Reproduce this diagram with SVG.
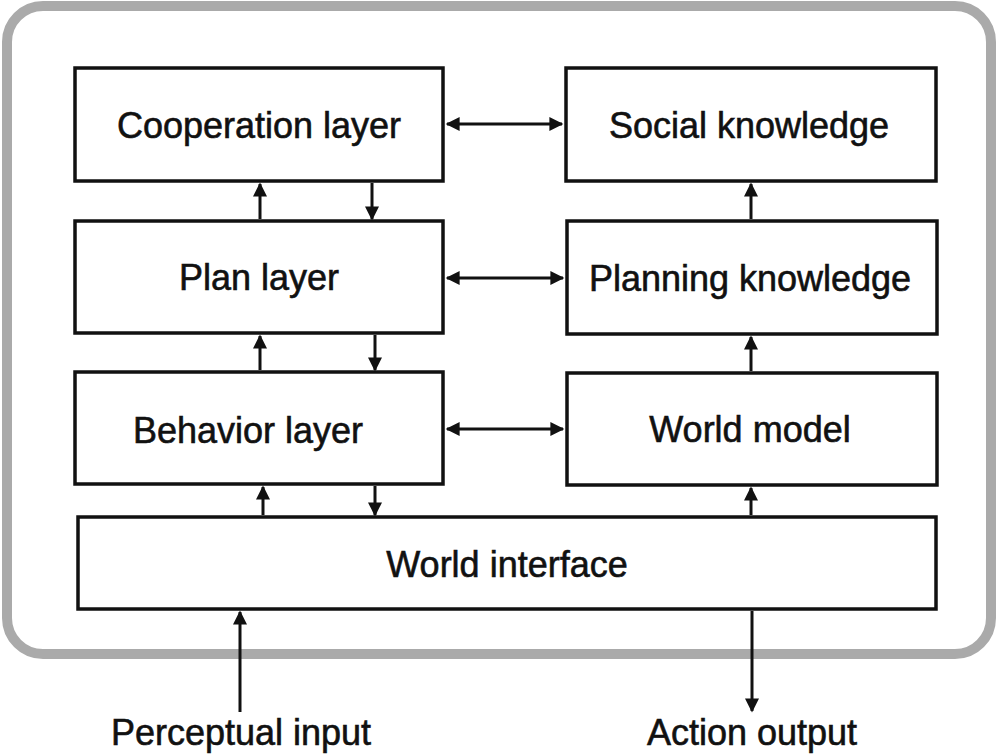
<svg xmlns="http://www.w3.org/2000/svg" width="1000" height="756" viewBox="0 0 1000 756">
<style>
.box{fill:#fff;stroke:#111;stroke-width:3.5}
.t{font-family:"Liberation Sans",Arial,sans-serif;font-size:36px;fill:#111;stroke:#111;stroke-width:0.6;text-anchor:middle}
.c{stroke:#111;stroke-width:3;fill:none}
</style>
<defs>
<marker id="ah" viewBox="0 0 10 10" refX="9" refY="5" markerWidth="15" markerHeight="14" markerUnits="userSpaceOnUse" orient="auto-start-reverse">
<path d="M0,0 L10,5 L0,10 z" fill="#111"/>
</marker>
</defs>
<rect x="7" y="6" width="984" height="648" rx="36" fill="#fff" stroke="#aaaaaa" stroke-width="10"/>
<g id="cooperation"><rect class="box" x="75" y="68" width="368" height="113"/><text class="t" x="259" y="138">Cooperation layer</text></g>
<g id="plan"><rect class="box" x="75" y="221" width="368" height="112"/><text class="t" x="259" y="290">Plan layer</text></g>
<g id="behavior"><rect class="box" x="75" y="372" width="368" height="112"/><text class="t" x="248" y="443">Behavior layer</text></g>
<g id="social"><rect class="box" x="566" y="68" width="370" height="113"/><text class="t" x="749" y="138">Social knowledge</text></g>
<g id="planning"><rect class="box" x="567" y="221" width="370" height="113"/><text class="t" x="750" y="291">Planning knowledge</text></g>
<g id="worldmodel"><rect class="box" x="567" y="373" width="370" height="112"/><text class="t" x="750" y="442">World model</text></g>
<g id="interface"><rect class="box" x="78" y="517" width="858" height="92"/><text class="t" x="507" y="577">World interface</text></g>
<g id="connectors">
<line class="c" x1="447" y1="124" x2="562" y2="124" marker-start="url(#ah)" marker-end="url(#ah)"/>
<line class="c" x1="447" y1="278" x2="563" y2="278" marker-start="url(#ah)" marker-end="url(#ah)"/>
<line class="c" x1="447" y1="429" x2="563" y2="429" marker-start="url(#ah)" marker-end="url(#ah)"/>
<line class="c" x1="260" y1="219" x2="260" y2="184" marker-end="url(#ah)"/>
<line class="c" x1="372" y1="183" x2="372" y2="219" marker-end="url(#ah)"/>
<line class="c" x1="260" y1="370" x2="260" y2="336" marker-end="url(#ah)"/>
<line class="c" x1="375" y1="335" x2="375" y2="370" marker-end="url(#ah)"/>
<line class="c" x1="263" y1="515" x2="263" y2="487" marker-end="url(#ah)"/>
<line class="c" x1="375" y1="486" x2="375" y2="515" marker-end="url(#ah)"/>
<line class="c" x1="751" y1="219" x2="751" y2="184" marker-end="url(#ah)"/>
<line class="c" x1="751" y1="371" x2="751" y2="337" marker-end="url(#ah)"/>
<line class="c" x1="751" y1="515" x2="751" y2="488" marker-end="url(#ah)"/>
<line class="c" x1="240" y1="712" x2="240" y2="612" marker-end="url(#ah)"/>
<line class="c" x1="752" y1="611" x2="752" y2="711" marker-end="url(#ah)"/>
</g>
<text class="t" x="241" y="745">Perceptual input</text>
<text class="t" x="752" y="745">Action output</text>
</svg>
